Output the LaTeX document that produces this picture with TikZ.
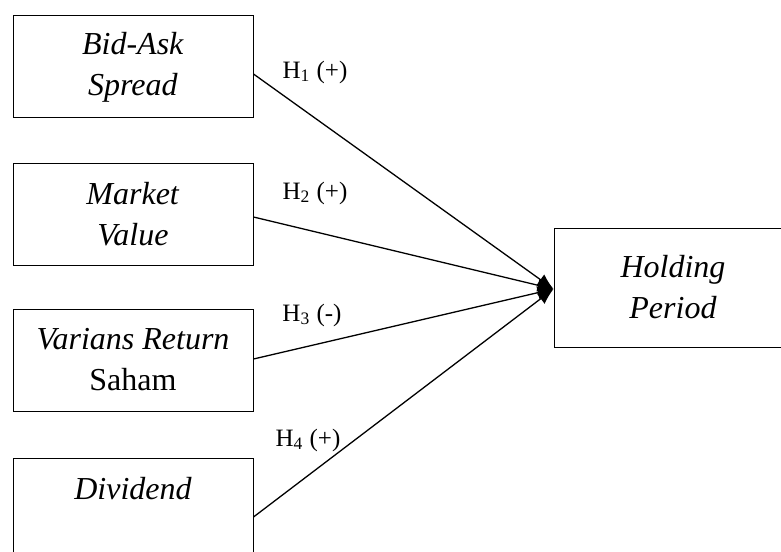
\documentclass[tikz,border=0pt]{standalone}
\usepackage{fontspec}
\setmainfont{Liberation Serif}
\usetikzlibrary{arrows.meta}
\begin{document}
\begin{tikzpicture}[x=0.5pt,y=-0.5pt]

% Style for nodes
\tikzstyle{varbox}=[draw,line width=0.5pt,minimum width=120pt,minimum height=51pt,align=center,font=\fontsize{16}{20.5}\selectfont]
\tikzstyle{hyp}=[font=\fontsize{12.5}{14}\selectfont,inner sep=0]
\tikzstyle{link}=[line width=0.65pt,-{Latex[length=8pt,width=6.5pt]}]
% Page frame
\useasboundingbox (0,0) rectangle (781,551);
% The boxes
\node(bas)[varbox] at (133,67) {\textit{Bid-Ask}\\\textit{Spread}};
\node(mv)[varbox] at (133,214) {\textit{Market}\\\textit{Value}};
\node(vrs)[varbox] at (133,360) {\textit{Varians Return}\\Saham};
\node(div)[varbox] at (133,509) {\textit{Dividend}\\\mbox{}};
\node(hp)[varbox,minimum width=119pt,minimum height=59.5pt] at (673,287.5) {\textit{Holding}\\\textit{Period}};
% Hypotheses
\node(h1)[hyp] at (315,72) {H\textsubscript{1} (+)};
\node(h2)[hyp] at (315,193) {H\textsubscript{2} (+)};
\node(h3)[hyp] at (312,315) {H\textsubscript{3} (-)};
\node(h4)[hyp] at (308,440) {H\textsubscript{4} (+)};
% The arrows
\draw[link] ([yshift=-3.5pt]bas.east) -- ([yshift=-0.75pt]hp.west);
\draw[link] ([yshift=-1.5pt]mv.east) -- ([yshift=-0.75pt]hp.west);
\draw[link] ([yshift=0.5pt]vrs.east) -- ([yshift=-0.75pt]hp.west);
\draw[link] ([yshift=-4pt]div.east) -- ([yshift=-0.75pt]hp.west);
\end{tikzpicture}
\end{document}
